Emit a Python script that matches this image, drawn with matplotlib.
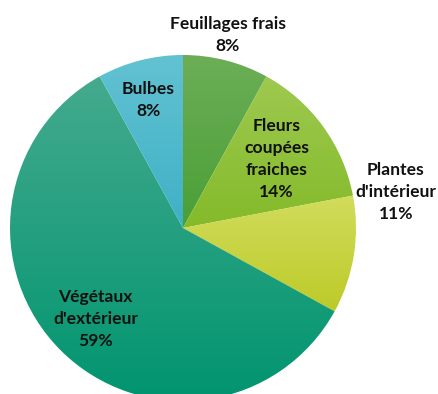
#!/usr/bin/env python3
"""Pie chart: share of plant product categories, Excel-style gradient wedges."""

import matplotlib.pyplot as plt
import numpy as np
from matplotlib.colors import LinearSegmentedColormap

labels = ["Feuillages frais", "Fleurs\ncoupées\nfraiches", "Plantes\nd'intérieur",
          "Végétaux\nd'extérieur", "Bulbes"]
shares = [8, 14, 11, 59, 8]

# light (top) / dark (bottom) colour for each wedge gradient
top_colors = ["#6cae57", "#9ec94f", "#d2dc5c", "#45aa8e", "#62c2d2"]
bottom_colors = ["#4a9f36", "#84ba2a", "#bccb28", "#00956f", "#3fb0c6"]

# label anchor points in data units (pie radius = 1)
label_xy = [(0.26, 1.115), (0.54, 0.40), (1.23, 0.21), (-0.505, -0.525), (-0.20, 0.74)]

W, H = 439, 394
R_PX = 173
CX, CY = 183, 228

fig = plt.figure(figsize=(W / 100, H / 100), dpi=100)
ax = fig.add_axes([0, 0, 1, 1])

wedges, _ = ax.pie(shares, startangle=90, counterclock=False, radius=1,
                   wedgeprops=dict(linewidth=0))

grad = np.linspace(0, 1, 256).reshape(-1, 1)
for w, c0, c1 in zip(wedges, top_colors, bottom_colors):
    w.set_facecolor("none")
    verts = w.get_path().vertices
    x0, x1 = verts[:, 0].min(), verts[:, 0].max()
    y0, y1 = verts[:, 1].min(), verts[:, 1].max()
    cmap = LinearSegmentedColormap.from_list("g", [c0, c1])
    im = ax.imshow(grad, cmap=cmap, extent=(x0, x1, y0, y1), origin="upper",
                   aspect="auto", interpolation="bilinear", zorder=1)
    im.set_clip_path(w)

for txt, pct, (x, y) in zip(labels, shares, label_xy):
    ax.text(x, y, f"{txt}\n{pct}%", ha="center", va="center", fontsize=12.6,
            fontweight="bold", family=["Lato", "DejaVu Sans"], color="#111111",
            linespacing=1.45, zorder=3)

ax.set_xlim(-CX / R_PX, (W - CX) / R_PX)
ax.set_ylim((CY - H) / R_PX, CY / R_PX)
ax.set_aspect("equal")
ax.axis("off")

fig.savefig("out.png", dpi=100)
